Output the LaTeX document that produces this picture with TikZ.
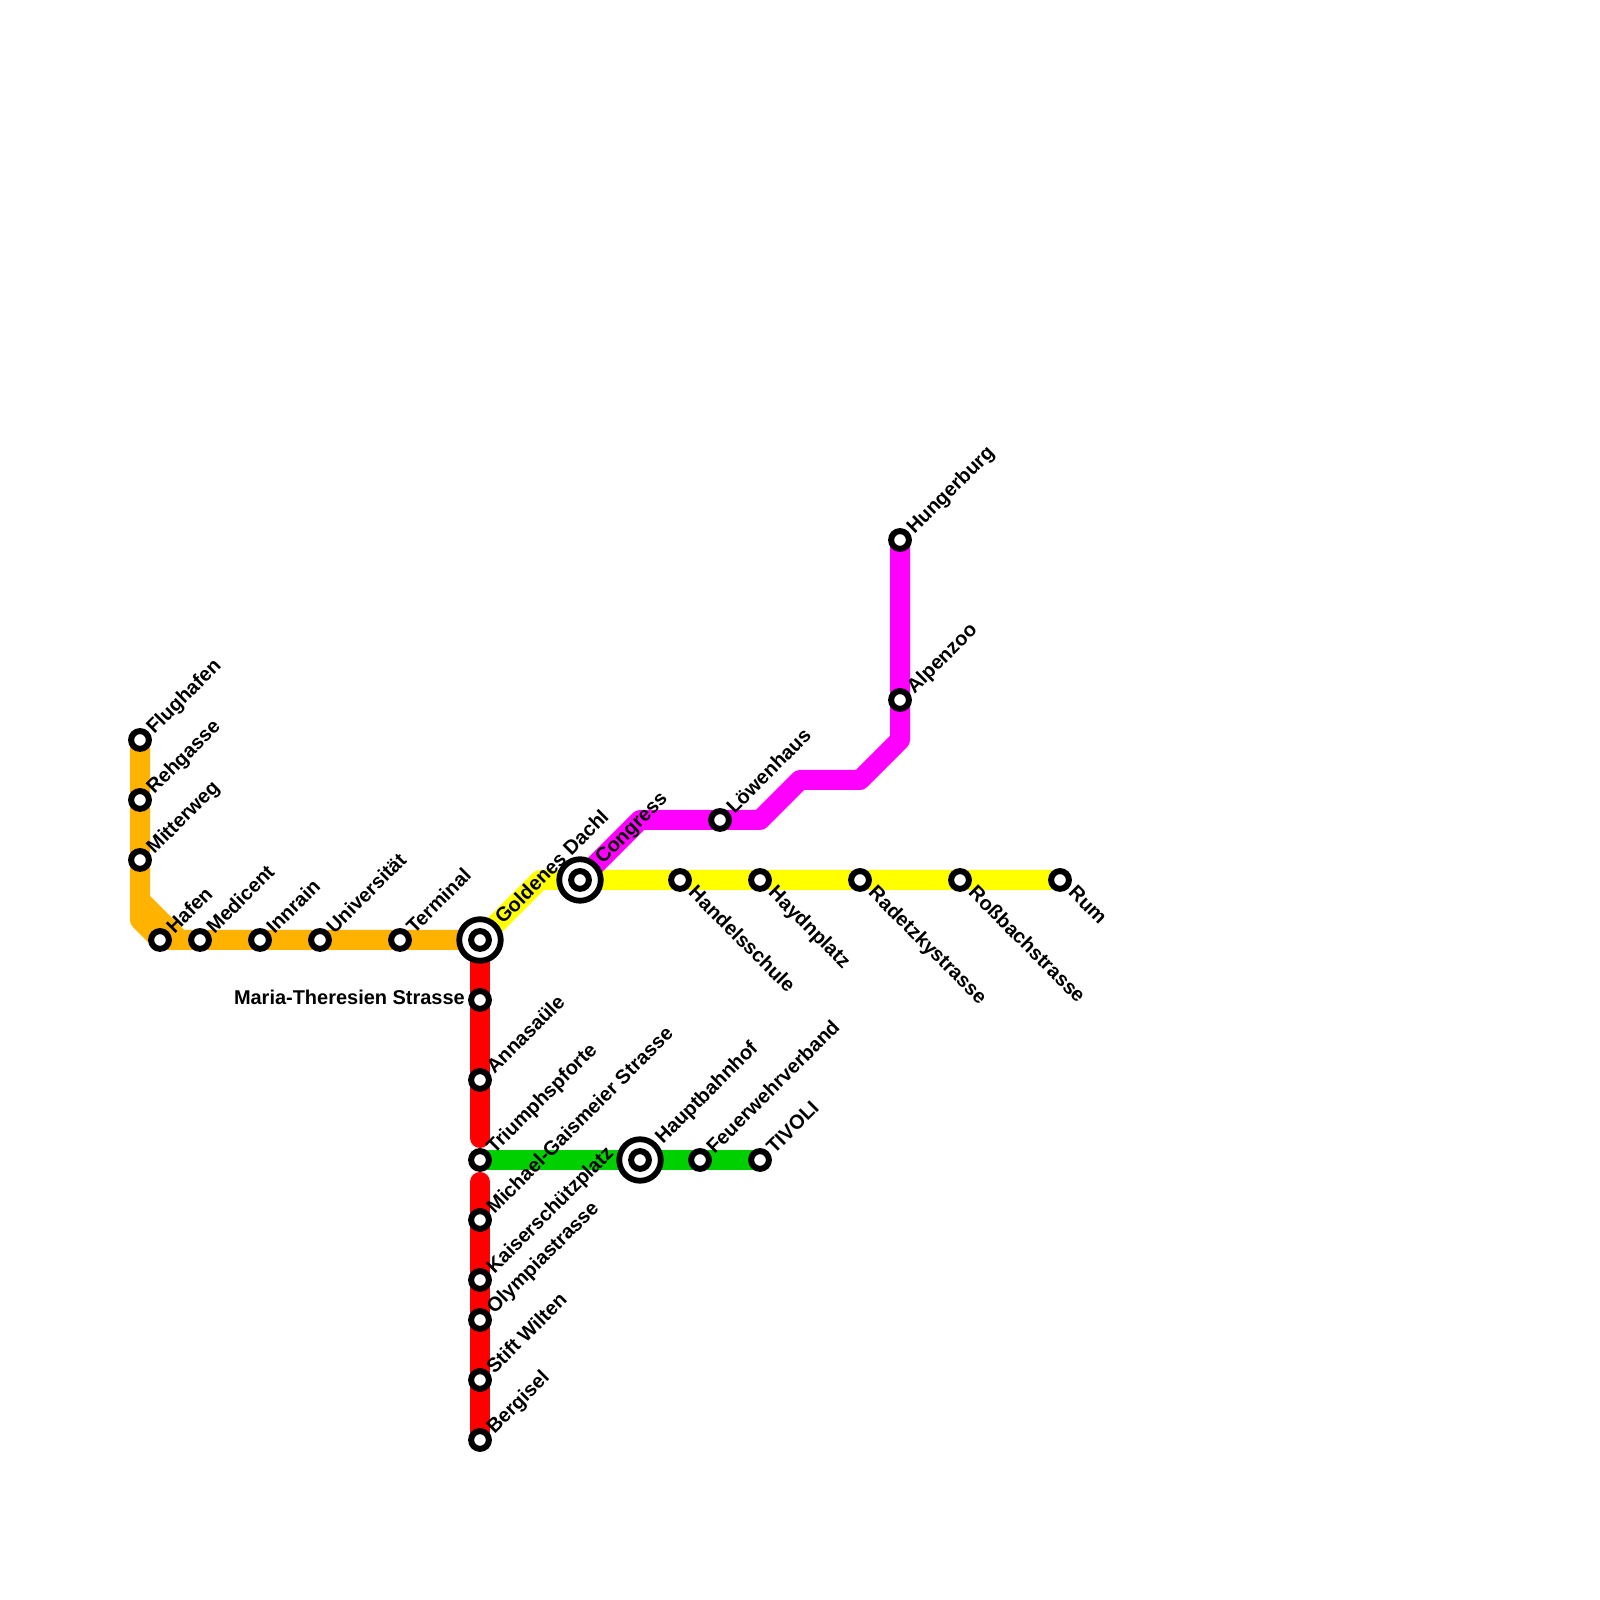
\documentclass[tikz,border=0pt]{standalone}
\usepackage{fontspec}
\setmainfont{Liberation Sans}
\usetikzlibrary{backgrounds}
\definecolor{lineorange}{RGB}{255,179,0}
\definecolor{linegreen}{RGB}{0,208,0}
\definecolor{lineyellow}{RGB}{255,255,0}
\definecolor{linemagenta}{RGB}{255,0,255}
\definecolor{linered}{RGB}{255,0,0}
\tikzset{
    %Define style for stations
    stn/.style={
           circle,
           draw=black,
           fill=white,
           line width=.6mm,
           inner sep=0pt,
           minimum size=1.78mm},
    hub/.style={
           circle,
           draw=black,
           fill=white,
           line width=.58mm,
           inner sep=0pt,
           minimum size=4.15mm},
    % Define label styles
    lup/.style={
           shift={(1.4mm,.48mm)},
           rotate=45,
           anchor=base west,
           inner sep=0pt,
           font=\bfseries\fontsize{5.68pt}{6pt}\selectfont},
    lhub/.style={
           shift={(2.27mm,1.45mm)},
           rotate=45,
           anchor=base west,
           inner sep=0pt,
           font=\bfseries\fontsize{5.68pt}{6pt}\selectfont},
    ldn/.style={
           shift={(.7mm,-1.35mm)},
           rotate=-45,
           anchor=base west,
           inner sep=0pt,
           font=\bfseries\fontsize{5.68pt}{6pt}\selectfont},
    llf/.style={
           shift={(-1.45mm,-.5mm)},
           anchor=base east,
           inner sep=0pt,
           font=\bfseries\fontsize{5.68pt}{6pt}\selectfont},
    % Define line style
    route/.style={
           line width=2mm,
           line join=round}
}

\begin{document}
\begin{tikzpicture}
    \useasboundingbox (0,0) rectangle (16,16);

    % ORANGE STATIONS
    \node[stn] at (1.4,8.6) (flughafen) {};
    \node[stn] at (1.4,8.0) (rehgasse) {};
    \node[stn] at (1.4,7.4) (mitterweg) {};
    \node[stn] at (1.6,6.6) (hafen) {};
    \node[stn] at (2.0,6.6) (medicent) {};
    \node[stn] at (2.6,6.6) (innrain) {};
    \node[stn] at (3.2,6.6) (universitaet) {};
    \node[stn] at (4.0,6.6) (terminal) {};
    \node[hub] at (4.8,6.6) (goldenesring) {};
    \node[stn] at (goldenesring) (goldenes) {};

    % RED STATIONS
    \node[stn] at (4.8,6.0) (maria) {};
    \node[stn] at (4.8,5.2) (annasaeule) {};
    \node[stn] at (4.8,4.4) (triumph) {};
    \node[stn] at (4.8,3.8) (gaismeier) {};
    \node[stn] at (4.8,3.2) (kaiser) {};
    \node[stn] at (4.8,2.8) (olympia) {};
    \node[stn] at (4.8,2.2) (stift) {};
    \node[stn] at (4.8,1.6) (bergisel) {};

    % GREEN STATIONS
    \node[hub] at (6.4,4.4) (hauptring) {};
    \node[stn] at (hauptring) (haupt) {};
    \node[stn] at (7.0,4.4) (feuerwehr) {};
    \node[stn] at (7.6,4.4) (tivoli) {};

    % YELLOW STATIONS
    \node[hub] at (5.8,7.2) (congressring) {};
    \node[stn] at (congressring) (congress) {};
    \node[stn] at (6.8,7.2) (handel) {};
    \node[stn] at (7.6,7.2) (haydn) {};
    \node[stn] at (8.6,7.2) (radetzky) {};
    \node[stn] at (9.6,7.2) (rossbach) {};
    \node[stn] at (10.6,7.2) (rum) {};

    % MAGENTA STATIONS
    \node[stn] at (7.2,7.8) (loewenhaus) {};
    \node[stn] at (9.0,9.0) (alpenzoo) {};
    \node[stn] at (9.0,10.6) (hungerburg) {};

    % BENDS
    \coordinate (obendA) at (1.4,6.8);
    \coordinate (obendB) at (1.4,7.0);
    \coordinate (obendC) at (1.8,6.6);
    \coordinate (rendA) at (4.8,4.62);
    \coordinate (rendB) at (4.8,4.18);
    \coordinate (ybend) at (5.4,7.2);
    \coordinate (mbendA) at (6.4,7.8);
    \coordinate (mbendB) at (7.6,7.8);
    \coordinate (mbendC) at (8.0,8.2);
    \coordinate (mbendD) at (8.6,8.2);
    \coordinate (mbendE) at (9.0,8.6);

    % LINES
    \begin{pgfonlayer}{background}
    \draw[route, linered, line cap=round] (goldenes.center) -- (rendA);
    \draw[route, linered, line cap=round] (rendB) -- (bergisel.center);
    \draw[route, lineorange] (flughafen.center) -- (obendA) -- (hafen.center) -- (goldenes.center);
    \draw[route, lineorange] (obendB) -- (obendC);
    \draw[route, linegreen] (triumph.center) -- (tivoli.center);
    \draw[route, lineyellow] (goldenes.center) -- (ybend) -- (rum.center);
    \draw[route, linemagenta] (congress.center) -- (mbendA) -- (mbendB) -- (mbendC)
        -- (mbendD) -- (mbendE) -- (hungerburg.center);
    \end{pgfonlayer}

    % LABELS
    \node[lup] at (flughafen) (flughafenL) {Flughafen};
    \node[lup] at (rehgasse) (rehgasseL) {Rehgasse};
    \node[lup] at (mitterweg) (mitterwegL) {Mitterweg};
    \node[lup] at (hafen) (hafenL) {Hafen};
    \node[lup] at (medicent) (medicentL) {Medicent};
    \node[lup] at (innrain) (innrainL) {Innrain};
    \node[lup] at (universitaet) (universitaetL) {Universität};
    \node[lup] at (terminal) (terminalL) {Terminal};
    \node[lhub] at (goldenes) (goldenesL) {Goldenes Dachl};
    \node[llf] at (maria) (mariaL) {Maria-Theresien Strasse};
    \node[lup] at (annasaeule) (annasaeuleL) {Annasaüle};
    \node[lup] at (triumph) (triumphL) {Triumphspforte};
    \node[lup] at (gaismeier) (gaismeierL) {Michael-Gaismeier Strasse};
    \node[lup] at (kaiser) (kaiserL) {Kaiserschützplatz};
    \node[lup] at (olympia) (olympiaL) {Olympiastrasse};
    \node[lup] at (stift) (stiftL) {Stift Wilten};
    \node[lup] at (bergisel) (bergiselL) {Bergisel};
    \node[lhub] at (haupt) (hauptL) {Hauptbahnhof};
    \node[lup] at (feuerwehr) (feuerwehrL) {Feuerwehrverband};
    \node[lup] at (tivoli) (tivoliL) {TIVOLI};
    \node[lhub] at (congress) (congressL) {Congress};
    \node[ldn] at (handel) (handelL) {Handelsschule};
    \node[ldn] at (haydn) (haydnL) {Haydnplatz};
    \node[ldn] at (radetzky) (radetzkyL) {Radetzkystrasse};
    \node[ldn] at (rossbach) (rossbachL) {Roßbachstrasse};
    \node[ldn] at (rum) (rumL) {Rum};
    \node[lup] at (loewenhaus) (loewenhausL) {Löwenhaus};
    \node[lup] at (alpenzoo) (alpenzooL) {Alpenzoo};
    \node[lup] at (hungerburg) (hungerburgL) {Hungerburg};
\end{tikzpicture}
\end{document}
